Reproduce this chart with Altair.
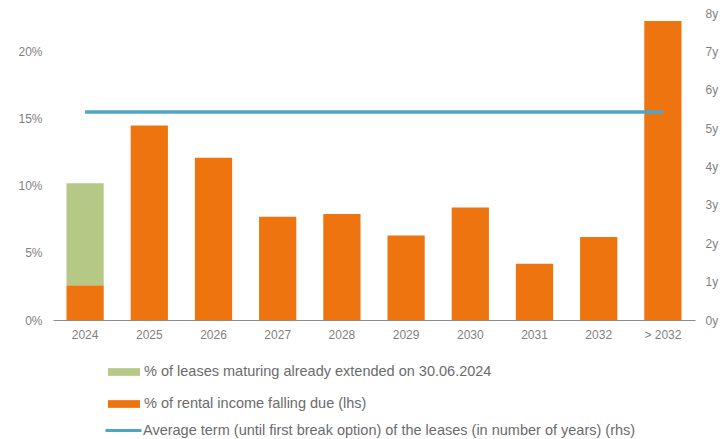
import altair as alt
import pandas as pd

categories = ["2024", "2025", "2026", "2027", "2028", "2029", "2030", "2031", "2032", "> 2032"]
rental_income = [2.6, 14.5, 12.1, 7.7, 7.9, 6.3, 8.4, 4.2, 6.2, 22.3]
extended = [7.6, 0, 0, 0, 0, 0, 0, 0, 0, 0]
avg_term = [5.42, 5.42, 5.42, 5.42, 5.42, 5.42, 5.42, 5.42, 5.42, 5.42]

L_EXT = "% of leases maturing already extended on 30.06.2024"
L_INC = "% of rental income falling due (lhs)"
L_AVG = "Average term (until first break option) of the leases (in number of years) (rhs)"

GREEN = "#B5C886"
ORANGE = "#EE7410"
BLUE = "#4DA6C6"
TXT = "#7f7f7f"

rows = []
for c, v in zip(categories, rental_income):
    rows.append({"cat": c, "series": L_INC, "value": v, "ord": 0})
for c, v in zip(categories, extended):
    if v:
        rows.append({"cat": c, "series": L_EXT, "value": v, "ord": 1})
bars_df = pd.DataFrame(rows)
line_df = pd.DataFrame({"cat": categories, "term": avg_term, "series": [L_AVG] * len(categories)})

xenc = alt.X("cat:N", sort=categories, title=None,
             scale=alt.Scale(paddingInner=0.42, paddingOuter=0.21),
             axis=alt.Axis(labelAngle=0, ticks=False, domainColor="#8c8c8c",
                           labelPadding=9, labelFontSize=12, labelColor=TXT))

bars = alt.Chart(bars_df).mark_bar().encode(
    x=xenc,
    y=alt.Y("value:Q", stack="zero", title=None,
            scale=alt.Scale(domain=[0, 22.9], nice=False),
            axis=alt.Axis(values=[0, 5, 10, 15, 20], labelExpr="datum.value + '%'",
                          grid=False, domain=False, ticks=False, labelPadding=11,
                          labelFontSize=12, labelColor=TXT)),
    color=alt.Color("series:N", title=None,
                    scale=alt.Scale(domain=[L_EXT, L_INC], range=[GREEN, ORANGE]),
                    legend=alt.Legend(orient="none", legendX=55, legendY=343, direction="vertical",
                                      symbolType="M-1,-0.24H1V0.24H-1Z", symbolSize=1024,
                                      symbolStrokeWidth=0, labelLimit=0,
                                      labelFontSize=14.5, labelColor="#6b6b6b", labelOffset=4,
                                      rowPadding=9)),
    order=alt.Order("ord:Q"),
)

line = alt.Chart(line_df).mark_line(strokeWidth=3.5).encode(
    x=alt.X("cat:N", sort=categories),
    y=alt.Y("term:Q", title=None,
            scale=alt.Scale(domain=[0, 8], nice=False),
            axis=alt.Axis(orient="right", values=[0, 1, 2, 3, 4, 5, 6, 7, 8],
                          labelExpr="datum.value + 'y'", grid=False, domain=False,
                          ticks=False, labelPadding=10, labelFontSize=12, labelColor=TXT)),
    stroke=alt.Stroke("series:N", title=None,
                      scale=alt.Scale(domain=[L_AVG], range=[BLUE]),
                      legend=alt.Legend(orient="none", legendX=51, legendY=398,
                                        symbolType="stroke", symbolSize=1296,
                                        symbolStrokeWidth=3, labelLimit=0,
                                        labelFontSize=14.5, labelColor="#6b6b6b", labelOffset=0)),
)

chart = alt.layer(bars, line).resolve_scale(y="independent").properties(
    width=642, height=307,
    autosize=alt.AutoSizeParams(type="none"),
    padding={"left": 45, "top": 5, "right": 24, "bottom": 127},
).configure(font="Liberation Sans").configure_view(stroke=None)

chart.save("out.html", embed_options={"renderer": "svg", "actions": False})
